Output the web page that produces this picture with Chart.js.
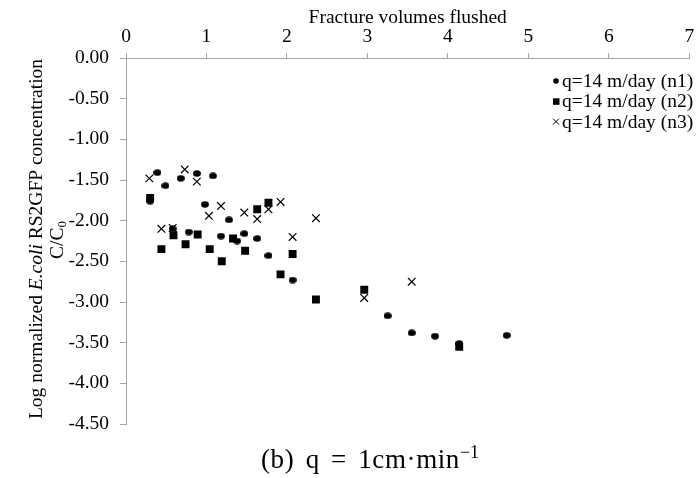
<!DOCTYPE html>
<html><head><meta charset="utf-8">
<script src="https://cdn.jsdelivr.net/npm/chart.js@4/dist/chart.umd.min.js"></script>
<style>
html,body{margin:0;padding:0;background:#fff;}
#wrap{position:relative;width:696px;height:478px;overflow:hidden;}
#caption{position:absolute;left:261px;top:444px;text-align:left;font-family:"Liberation Serif",serif;font-size:27px;letter-spacing:0.6px;word-spacing:4px;color:#000;white-space:nowrap;}
#caption sup{font-size:18px;vertical-align:10px;line-height:0;letter-spacing:0;}
</style></head><body>
<div id="wrap"><canvas id="c" width="696" height="478"></canvas>
<div id="caption">(b) q = 1cm·min<sup>−1</sup></div></div>
<script>
// ---- data ----
const xTickValues = [0, 1, 2, 3, 4, 5, 6, 7];
const yTickValues = [0, -0.5, -1, -1.5, -2, -2.5, -3, -3.5, -4, -4.5];
const seriesLabels = ["q=14 m/day (n1)", "q=14 m/day (n2)", "q=14 m/day (n3)"];

const n1X = [0.30, 0.39, 0.49, 0.58, 0.68, 0.78, 0.88, 0.98, 1.08, 1.18, 1.28, 1.38, 1.47, 1.63, 1.77, 2.07, 3.25, 3.55, 3.84, 4.14, 4.73];
const n1Y = [-1.76, -1.41, -1.57, -2.10, -1.48, -2.14, -1.42, -1.80, -1.45, -2.19, -1.99, -2.25, -2.16, -2.22, -2.43, -2.73, -3.17, -3.38, -3.42, -3.51, -3.41];

const n2X = [0.30, 0.44, 0.59, 0.74, 0.89, 1.04, 1.19, 1.33, 1.48, 1.63, 1.77, 1.92, 2.07, 2.36, 2.96, 4.14];
const n2Y = [-1.72, -2.35, -2.18, -2.29, -2.17, -2.35, -2.50, -2.22, -2.37, -1.86, -1.78, -2.66, -2.41, -2.97, -2.85, -3.55];

const n3X = [0.29, 0.44, 0.58, 0.73, 0.88, 1.03, 1.18, 1.47, 1.63, 1.77, 1.92, 2.07, 2.36, 2.96, 3.55];
const n3Y = [-1.48, -2.10, -2.09, -1.37, -1.52, -1.94, -1.82, -1.90, -1.98, -1.86, -1.77, -2.20, -1.97, -2.95, -2.75];

const toPts = (xs, ys) => xs.map((x, i) => ({x: x, y: ys[i]}));

// ---- styles ----
const SERIF = '"Liberation Serif", serif';
const FS = 19.5;
const AXIS = '#a6a6a6';

// ellipse marker for n1
const dot = document.createElement('canvas');
dot.width = 8; dot.height = 7;
(function(){const g = dot.getContext('2d'); g.fillStyle = '#000'; g.beginPath(); g.ellipse(4, 3.5, 3.9, 3.3, 0, 0, Math.PI*2); g.fill();})();

// let the last x label run off the edge, as in the reference
const noScalePadding = {
  id: 'noScalePadding',
  beforeLayout(chart) {
    Object.values(chart.scales || {}).forEach(s => {
      if (!s._noPad) { s.getPadding = () => ({left: 0, top: 0, right: 0, bottom: 0}); s._noPad = true; }
    });
  }
};

const extras = {
  id: 'extras',
  afterDraw(chart) {
    const ctx = chart.ctx;
    ctx.save();
    ctx.fillStyle = '#000';
    ctx.textBaseline = 'middle';
    // y title, rotated
    const f1 = FS + 'px ' + SERIF, fi = 'italic ' + FS + 'px ' + SERIF;
    const parts = [["Log normalized ", f1], ["E.coli", fi], [" RS2GFP concentration", f1]];
    let total = 0;
    parts.forEach(p => { ctx.font = p[1]; total += ctx.measureText(p[0]).width; });
    ctx.translate(37, 239);
    ctx.rotate(-Math.PI / 2);
    let x = -total / 2;
    ctx.textAlign = 'left';
    parts.forEach(p => { ctx.font = p[1]; ctx.fillText(p[0], x, 0); x += ctx.measureText(p[0]).width; });
    ctx.setTransform(1, 0, 0, 1, 0, 0);
    // second line C/C0
    ctx.translate(58, 240);
    ctx.rotate(-Math.PI / 2);
    ctx.font = f1;
    const w1 = ctx.measureText("C/C").width;
    ctx.font = '13px ' + SERIF;
    const w2 = ctx.measureText("0").width;
    let sx = -(w1 + w2) / 2;
    ctx.font = f1; ctx.fillText("C/C", sx, 0);
    ctx.font = '13px ' + SERIF; ctx.fillText("0", sx + w1, 5);
    ctx.setTransform(1, 0, 0, 1, 0, 0);
    // legend
    ctx.font = FS + 'px ' + SERIF;
    const lx = 556, ly0 = 81, dy = 20.3;
    seriesLabels.forEach((lab, i) => {
      const y = ly0 + i * dy;
      ctx.fillStyle = '#000'; ctx.strokeStyle = '#000';
      if (i === 0) { ctx.beginPath(); ctx.arc(lx, y, 2.8, 0, Math.PI*2); ctx.fill(); }
      else if (i === 1) { ctx.fillRect(lx - 3, y - 3, 6.5, 6.5); }
      else { ctx.lineWidth = 1; ctx.beginPath(); ctx.moveTo(lx-3,y-3); ctx.lineTo(lx+3,y+3); ctx.moveTo(lx+3,y-3); ctx.lineTo(lx-3,y+3); ctx.stroke(); }
      ctx.textAlign = 'left';
      ctx.fillText(lab, lx + 6, y + 1);
    });
    ctx.restore();
  }
};

new Chart(document.getElementById('c'), {
  type: 'scatter',
  data: {
    datasets: [
      {label: seriesLabels[0], data: toPts(n1X, n1Y), pointStyle: dot, pointRadius: 4, backgroundColor: '#000', borderColor: '#000'},
      {label: seriesLabels[1], data: toPts(n2X, n2Y), pointStyle: 'rect', pointRadius: 5.6, borderWidth: 0, backgroundColor: '#000', borderColor: '#000'},
      {label: seriesLabels[2], data: toPts(n3X, n3Y), pointStyle: 'crossRot', pointRadius: 5.4, borderWidth: 1.2, backgroundColor: '#000', borderColor: '#000'}
    ]
  },
  options: {
    responsive: false,
    animation: false,
    devicePixelRatio: 1,
    layout: {padding: {left: 0, top: 0, right: 3, bottom: 54}},
    plugins: {legend: {display: false}, tooltip: {enabled: false}},
    scales: {
      x: {
        type: 'linear', position: 'top', min: 0, max: 7,
        afterBuildTicks: s => { s.ticks = xTickValues.map(v => ({value: v})); },
        ticks: {font: {family: SERIF, size: FS}, color: '#000', padding: 4, maxRotation: 0, autoSkip: false},
        grid: {drawOnChartArea: false, drawTicks: true, tickLength: 5, color: AXIS},
        border: {color: AXIS, width: 1},
        title: {display: true, text: 'Fracture volumes flushed', font: {family: SERIF, size: FS}, color: '#000', padding: {top: 6, bottom: 0}},
        afterFit: s => { s.height = 58; }
      },
      y: {
        type: 'linear', position: 'left', min: -4.5, max: 0,
        afterBuildTicks: s => { s.ticks = yTickValues.map(v => ({value: v})); },
        ticks: {font: {family: SERIF, size: FS}, color: '#000', padding: 11, callback: v => v.toFixed(2), autoSkip: false},
        grid: {drawOnChartArea: false, drawTicks: true, tickLength: 6, color: AXIS},
        border: {color: AXIS, width: 1},
        afterFit: s => { s.width = 126; }
      }
    }
  },
  plugins: [noScalePadding, extras]
});
</script>
</body></html>
